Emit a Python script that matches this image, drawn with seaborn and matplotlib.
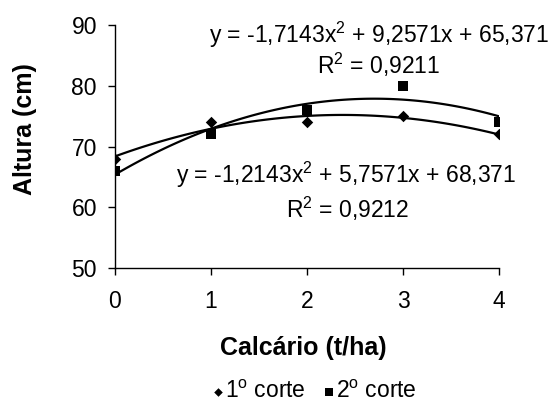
import matplotlib
matplotlib.use("Agg")
import matplotlib.pyplot as plt
import seaborn as sns
import pandas as pd

# data
calcario = [0, 1, 2, 3, 4]
corte1 = [68, 74, 74, 75, 72]
corte2 = [66, 72, 76, 80, 74]
series_labels = ["1$^\\mathrm{o}$ corte", "2$^\\mathrm{o}$ corte"]
eq_lines = ["y = -1,2143x$^2$ + 5,7571x + 68,371", "y = -1,7143x$^2$ + 9,2571x + 65,371"]
r2_lines = ["R$^2$ = 0,9212", "R$^2$ = 0,9211"]
y_ticks = [50, 60, 70, 80, 90]

sns.set_style("white")
plt.rcParams['font.family'] = ['Liberation Sans', 'DejaVu Sans']
plt.rcParams['mathtext.fontset'] = 'custom'
plt.rcParams['mathtext.rm'] = 'Liberation Sans'
plt.rcParams['mathtext.it'] = 'Liberation Sans'
plt.rcParams['text.color'] = 'black'
plt.rcParams['axes.labelcolor'] = 'black'
plt.rcParams['xtick.color'] = 'black'
plt.rcParams['ytick.color'] = 'black'

df = pd.DataFrame({'x': calcario * 2,
                   'y': corte1 + corte2,
                   'serie': [series_labels[0]] * 5 + [series_labels[1]] * 5})

fig = plt.figure(figsize=(5.52, 4.09), dpi=100)
ax = fig.add_axes([0.2083, 0.3447, 0.6957, 0.5942])

markers = ['D', 's']
msizes = [34, 52]
for i, lab in enumerate(series_labels):
    sub = df[df['serie'] == lab]
    sns.regplot(data=sub, x='x', y='y', order=2, ci=None, ax=ax, color='black',
                marker=markers[i], label=lab,
                scatter_kws={'s': msizes[i], 'linewidths': 0, 'zorder': 3, 'alpha': 1},
                line_kws={'linewidth': 1.6})

ax.set_xlim(0, 4)
ax.set_ylim(50, 90)
ax.set_xticks(calcario)
ax.set_yticks(y_ticks)
sns.despine(ax=ax)
for s in ['left', 'bottom']:
    ax.spines[s].set_color('black')
    ax.spines[s].set_linewidth(1)
ax.tick_params(axis='both', direction='out', length=5, width=1, color='black',
               labelsize=16.5, left=True, bottom=True)
ax.tick_params(axis='x', pad=11)
ax.tick_params(axis='y', pad=8)

ax.set_xlabel("Calcário (t/ha)", fontsize=18, fontweight='bold')
ax.set_ylabel("Altura (cm)", fontsize=18, fontweight='bold')
ax.xaxis.set_label_coords(0.49, -0.33)
ax.yaxis.set_label_coords(-0.234, 0.572)
ax.xaxis.label.set_va('center')
ax.yaxis.label.set_va('center')

# trendline equations
ax.text(2.41, 65.3, eq_lines[0], ha='center', va='center', fontsize=16.5)
ax.text(2.42, 59.7, r2_lines[0], ha='center', va='center', fontsize=16.5)
ax.text(2.75, 88.35, eq_lines[1], ha='center', va='center', fontsize=16.5)
ax.text(2.75, 83.4, r2_lines[1], ha='center', va='center', fontsize=16.5)

ax.legend(loc='center', bbox_to_anchor=(0.518, -0.51), ncol=2, frameon=False,
          fontsize=16.5, handletextpad=0.0, columnspacing=0.7, handlelength=0.6,
          markerscale=0.75, borderpad=0)

fig.savefig("out.png", dpi=100)
